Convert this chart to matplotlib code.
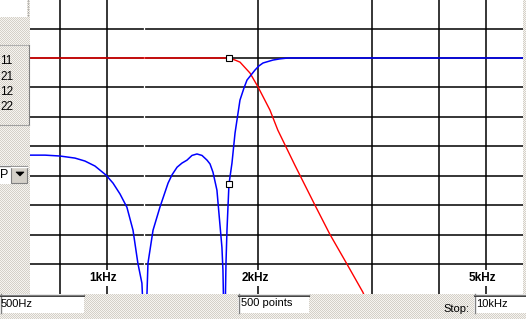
import numpy as np
import matplotlib
matplotlib.use("Agg")
import matplotlib.pyplot as plt
from matplotlib.patches import Rectangle, Polygon
from matplotlib.lines import Line2D

# S21 (red, low-pass): frequency (Hz) and level (dB)
red_f = [500, 1675, 1738, 1791, 1903, 2000, 2149, 2254, 2500, 2825, 3093, 3431, 3781, 3900]
red_db = [0, 0, -0.7, -1.4, -5.1, -9.9, -17.7, -24.5, -36.4, -50.0, -59.9, -70.0, -79.6, -84.0]

# S11 (blue) with two notches that run off the bottom of the plot
blue_f = [500, 548, 600, 657, 698, 742, 794, 828, 864, 901, 935, 963, 987, 1006,
          1024, 1056, 1101, 1157, 1185, 1222, 1259, 1298, 1338, 1379, 1422, 1466, 1493,
          1520, 1557, 1576, 1605, 1615, 1630, 1645, 1655, 1675, 1706, 1738, 1791, 1835,
          1869, 1915, 1962, 2009, 2060, 2123, 2189, 2283, 2397, 10000]
blue_db = [-33.0, -33.0, -33.3, -34.0, -35.0, -36.7, -39.8, -42.5, -46.2, -50.7, -58.5,
           -69.7, -76.5, -100,
           -69.7, -58.5, -50.7, -42.5, -39.7, -37.1, -35.7, -34.7, -33.1, -32.6, -33.1,
           -34.7, -36.0,
           -38.8, -44.9, -52.7, -64.3, -72.1, -100, -69.7, -58.5, -42.9, -35.7, -25.5,
           -14.3, -10.2,
           -7.5, -5.8, -4.1, -2.7, -1.7, -1.2, -0.7, -0.3, 0, 0]

marker_f = 1675
marker_db = [0, -42.9]

grid_f = [600, 800, 2000, 4000, 6000, 8000]
grid_db = [10, 0, -10, -20, -30, -40, -50, -60, -70]
label_f = [779, 1962, 7826]
label_txt = ["1kHz", "2kHz", "5kHz"]

W, H = 526, 319
plt.rcParams["font.family"] = ["Liberation Sans", "DejaVu Sans"]
fig = plt.figure(figsize=(W / 100, H / 100), dpi=100)

# dithered grey window background
yy, xx = np.indices((H, W))
chk = ((xx + yy) % 2)[..., None]
bg = np.where(chk == 0, np.array([212, 208, 200]), np.array([246, 244, 240])) / 255.0
fig.figimage(bg, 0, 0, zorder=-5)


def box(x, y, w, h):
    return (x / W, 1 - (y + h) / H), w / W, h / H


def add_rect(x, y, w, h, fc, ec="none", lw=0, z=1):
    xy, ww, hh = box(x, y, w, h)
    fig.add_artist(Rectangle(xy, ww, hh, transform=fig.transFigure,
                             fc=fc, ec=ec, lw=lw, zorder=z))


def add_line(xs, ys, color, lw=1.0, z=2, ls="-"):
    fig.add_artist(Line2D([x / W for x in xs], [1 - y / H for y in ys],
                          transform=fig.transFigure, color=color, lw=lw, zorder=z, ls=ls))


def sunken(x, y, w, h):
    add_rect(x, y, w, h, "white")
    add_line([x, x + w], [y + 0.5, y + 0.5], "#808080")
    add_line([x + 0.5, x + 0.5], [y, y + h], "#808080")
    add_line([x, x + w], [y + 1.5, y + 1.5], "#404040", lw=0.7)


def ftext(x, y, s, **kw):
    fig.text(x / W, 1 - y / H, s, zorder=4, **kw)


# plot area
ax = fig.add_axes([30 / W, (H - 293.5) / H, 493 / W, 293.5 / H])
ax.set_zorder(1)
ax.set_facecolor("white")
ax.set_xscale("log")
ax.set_xlim(500, 10000)
ax.set_ylim(-80, 19.7)
for s in ax.spines.values():
    s.set_visible(False)
ax.set_xticks([])
ax.set_yticks([])
ax.minorticks_off()

for d in grid_db:
    ax.axhline(d, color="black", lw=1.1, zorder=1)
for f in grid_f:
    ax.axvline(f, color="black", lw=1.1, zorder=1)
ax.axvline(1000, color="white", lw=0.9, zorder=1.5)

ax.plot(red_f, red_db, color="#ff0000", lw=1.0, zorder=3)
ax.plot(blue_f, blue_db, color="#0000ff", lw=1.1, zorder=3)
ax.plot([marker_f] * 2, marker_db, ls="none", marker="s", ms=3.8,
        mfc="white", mec="black", mew=0.8, zorder=4)

for f, t in zip(label_f, label_txt):
    ax.text(f, -74.7, t, ha="center", va="center", fontsize=8.5, fontweight="bold",
            bbox=dict(fc="white", ec="none", pad=1.5), zorder=5)

# left panel widgets
add_rect(0, 0, 27, 17, "white")
add_line([27.5, 27.5], [0, 17], "#909090", lw=0.8, ls=":")
add_line([0, 29], [45, 45], "#b0b0b0", lw=0.8)
add_line([28.5, 28.5], [45, 125], "#808080", lw=0.8)
add_line([0, 29], [125, 125], "#a0a0a0", lw=0.8)
for i, t in enumerate(["11", "21", "12", "22"]):
    ftext(0, 61 + i * 15.5, t, ha="left", va="center", fontsize=8.5)
add_rect(0, 165, 11, 19, "white")
add_line([0, 11], [165.5, 165.5], "#808080")
ftext(0, 175, "P", ha="left", va="center", fontsize=9)
add_rect(11, 166, 16, 17, "#d4d0c8", ec="#808080", lw=0.8)
add_line([11, 27], [166.5, 166.5], "white")
fig.add_artist(Polygon([(16 / W, 1 - 172 / H), (24 / W, 1 - 172 / H), (20 / W, 1 - 176 / H)],
                       transform=fig.transFigure, fc="black", ec="black", lw=0.5, zorder=3))

# bottom bar
sunken(0, 294, 84, 19)
ftext(1, 304, "500Hz", ha="left", va="center", fontsize=8)
sunken(238, 294, 71, 19)
ftext(241, 303, "500 points", ha="left", va="center", fontsize=8)
ftext(443, 309, "Stop:", ha="left", va="center", fontsize=8)
sunken(474, 294, 52, 19)
ftext(476, 304, "10kHz", ha="left", va="center", fontsize=8)

fig.savefig("out.png", dpi=100)
